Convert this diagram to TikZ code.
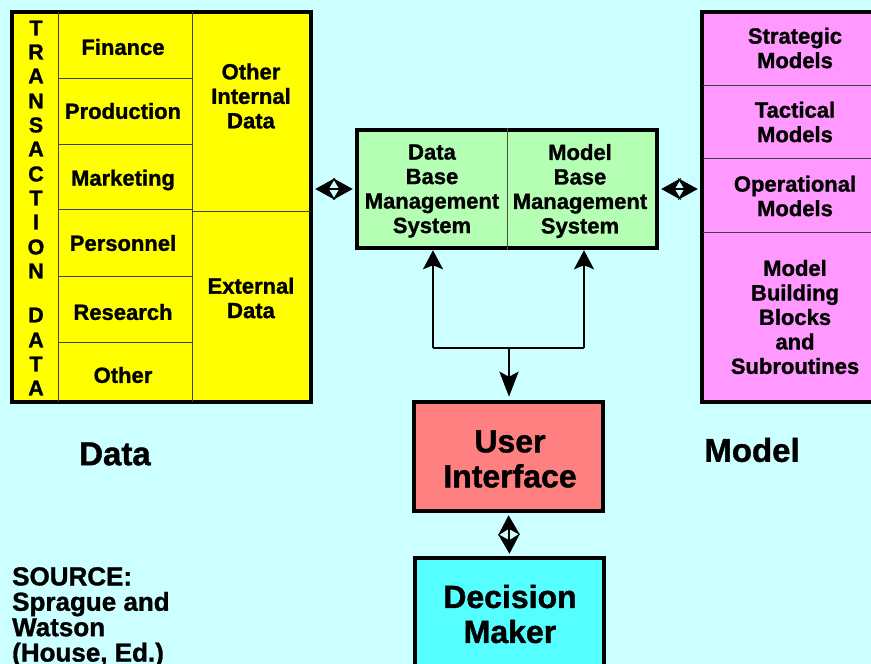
\documentclass[tikz,border=0pt]{standalone}
\usepackage{fontspec}
\setmainfont{Liberation Sans}[BoldFeatures={FakeBold=1.2}]
\usetikzlibrary{arrows.meta,calc}

\definecolor{bgcol}{RGB}{204,255,255}
\definecolor{datacol}{RGB}{255,255,0}
\definecolor{dbmscol}{RGB}{180,255,180}
\definecolor{modelcol}{RGB}{255,153,255}
\definecolor{uicol}{RGB}{255,128,128}
\definecolor{dmcol}{RGB}{85,255,255}

\newcommand\txtsz[2]{\fontsize{#1}{#2}\selectfont\bfseries}

\tikzset{
  frame/.style={draw=black, line width=4.5pt, inner sep=0pt},
  cellline/.style={draw=black!75, line width=1pt},
  celltext/.style={align=center, inner sep=0pt, font=\txtsz{22}{24.5}},
  bigtext/.style={align=center, inner sep=0pt, font=\txtsz{32}{35}},
  headtext/.style={inner sep=0pt, font=\txtsz{33}{36}},
  letter/.style={inner sep=0pt, font=\txtsz{21.5}{24}},
  twoway/.style={line width=1.8pt,
    {Stealth[length=20pt,width=22pt,inset=6.5pt]}-{Stealth[length=20pt,width=22pt,inset=6.5pt]},
    shorten <=2pt, shorten >=2pt},
  oneway/.style={line width=1.8pt, -{Stealth[length=19pt,width=20pt,inset=4pt]}},
  stem/.style={line width=2.8pt, -{Stealth[length=25pt,width=19pt,inset=5pt]}},
}

\begin{document}
\begin{tikzpicture}[x=1pt,y=-1pt]
\useasboundingbox (0,0) rectangle (871,664);
\clip (0,0) rectangle (871,664);
\fill[bgcol] (0,0) rectangle (871,664);

% ---------- data block ----------
\node[frame, fill=datacol, minimum width=299pt, minimum height=390pt] (data) at (161.5,207) {};
\draw[cellline] (58,12) -- (58,402);
\draw[cellline] (192,12) -- (192,402);
\foreach \yy in {78,144,209,276,342} \draw[cellline] (58,\yy) -- (192,\yy);
\draw[cellline] (192,211) -- (311,211);

% vertical caption, one letter per line
\foreach \ch/\yy in {T/28,R/52,A/76,N/101,S/125,A/149,C/174,T/198,I/222,O/247,N/271,D/315,A/340,T/364,A/388}
  \node[letter] at (36,\yy) {\ch};

\node[celltext] (fin)  at (123,47)  {Finance};
\node[celltext] (prod) at (123,111) {Production};
\node[celltext] (mkt)  at (123,180) {Marketing};
\node[celltext] (pers) at (123,243) {Personnel};
\node[celltext] (res)  at (123,312) {Research};
\node[celltext] (oth)  at (123,375) {Other};
\node[celltext] (oid)  at (251,96)  {Other\\Internal\\Data};
\node[celltext] (ext)  at (251,298) {External\\Data};

% ---------- model block ----------
\node[frame, fill=modelcol, minimum width=188pt, minimum height=390pt] (model) at (796,207) {};
\foreach \yy in {85,158,232} \draw[cellline] (703,\yy) -- (890,\yy);
\node[celltext] (strat) at (795,48)  {Strategic\\Models};
\node[celltext] (tact)  at (795,122) {Tactical\\Models};
\node[celltext] (oper)  at (795,196) {Operational\\Models};
\node[celltext] (mbb)   at (795,317) {Model\\Building\\Blocks\\and\\Subroutines};

% ---------- management systems ----------
\node[frame, fill=dbmscol, minimum width=300pt, minimum height=118pt] (mgmt) at (507,189) {};
\draw[draw=black!70, line width=1pt] (mgmt.north) -- (mgmt.south);
\node[celltext] (dbms) at (432,191) {Data\\Base\\Management\\System};
\node[celltext] (mbms) at (580,191) {Model\\Base\\Management\\System};

% ---------- user interface and decision maker ----------
\node[frame, fill=uicol, minimum width=189pt, minimum height=109pt] (ui) at (508.5,456.5) {};
\node[bigtext] (uitext) at (510,459) {User\\Interface};
\node[frame, fill=dmcol, minimum width=189pt, minimum height=142pt] (dm) at (509.5,629) {};
\node[bigtext] (dmtext) at (510,614) {Decision\\Maker};

% ---------- captions ----------
\node[headtext] (datalbl)  at (115,454) {Data};
\node[headtext] (modellbl) at (752,450) {Model};
\node[anchor=north west, align=left, inner sep=0pt, font=\txtsz{26}{25.4}] (src) at (12,567)
  {SOURCE:\\Sprague and\\Watson\\(House, Ed.)};

% ---------- connectors ----------
\draw[twoway] (data.east |- mgmt.west) -- (mgmt.west);
\draw[twoway] (mgmt.east) -- (mgmt.east -| model.west);
\draw[twoway] (ui.south) -- (dm.north);

\coordinate (jl) at (433,348);
\coordinate (jr) at (584,348);
\coordinate (jm) at (509,348);
\draw[line width=1.8pt] (jl) -- (jr);
\draw[oneway] (jl) -- (jl |- mgmt.south);
\draw[oneway] (jr) -- (jr |- mgmt.south);
\draw[stem, shorten >=3pt] (jm) -- (jm |- ui.north);
\end{tikzpicture}
\end{document}
